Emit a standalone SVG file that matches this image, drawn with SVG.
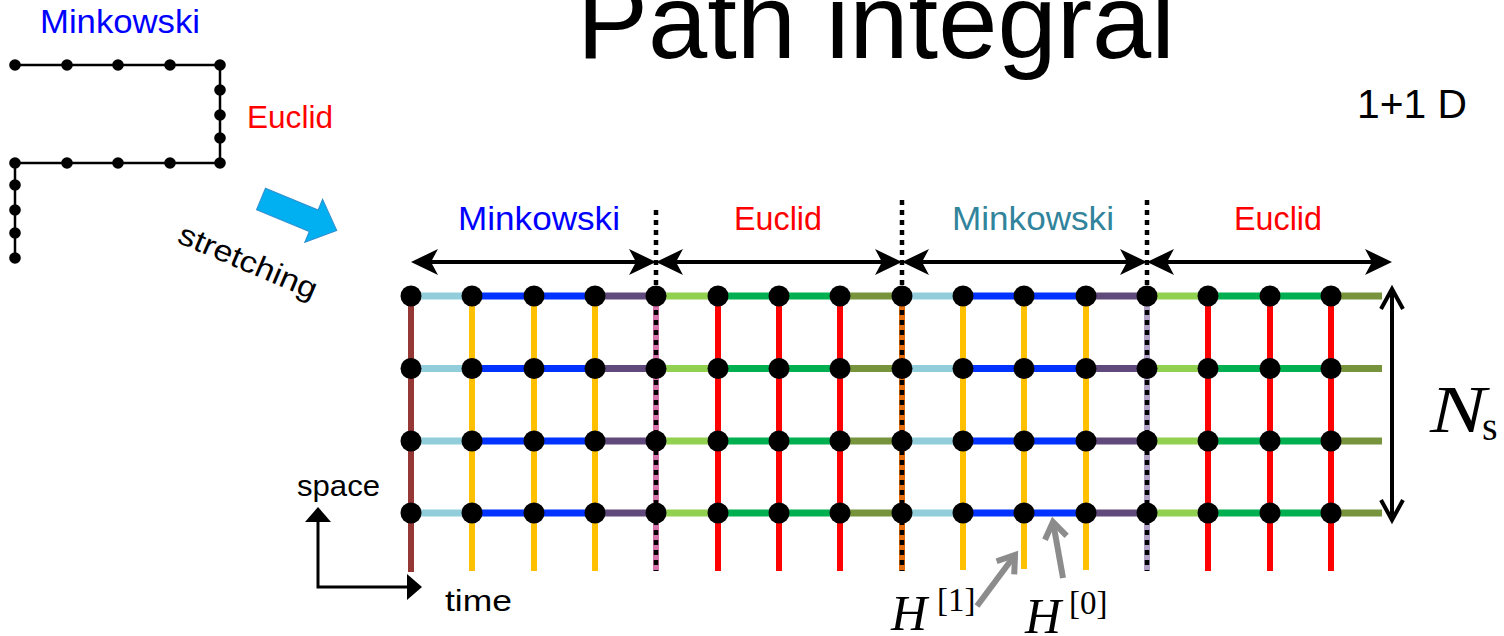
<svg xmlns="http://www.w3.org/2000/svg" width="1504" height="636" viewBox="0 0 1504 636">
<style>
.sans{font-family:"Liberation Sans",Arial,sans-serif}
.math{font-family:"Liberation Serif","Times New Roman",serif}
.k{stroke:#000;fill:none}
.dot{fill:#000}
.h{stroke-width:7;fill:none}
.v{stroke-width:6;fill:none}
.dotted{stroke:#000;stroke-width:4.5;stroke-dasharray:5 5;fill:none}
</style>
<defs>
<marker id="stealth" markerUnits="userSpaceOnUse" viewBox="-30 -16 40 32" markerWidth="40" markerHeight="32" refX="0" refY="0" orient="auto-start-reverse">
<path d="M5,0 L-22,-13 L-15,0 L-22,13 Z" fill="#000"/>
</marker>
<marker id="chev" markerUnits="userSpaceOnUse" viewBox="-30 -16 40 32" markerWidth="40" markerHeight="32" refX="0" refY="0" orient="auto-start-reverse">
<path d="M-20,-11 L0,0 L-20,11" fill="none" stroke="#000" stroke-width="4"/>
</marker>
<marker id="grey" markerUnits="userSpaceOnUse" viewBox="-24 -16 30 32" markerWidth="30" markerHeight="32" refX="0" refY="0" orient="auto">
<path d="M-16,-11 L0,0 L-16,11" fill="none" stroke="#8c8c8c" stroke-width="6"/>
</marker>
<g id="row-pattern" stroke-width="7" fill="none">
<line x1="411" y1="0" x2="472" y2="0" stroke="#92cddc"/>
<line x1="472" y1="0" x2="595" y2="0" stroke="#0033ff"/>
<line x1="595" y1="0" x2="656" y2="0" stroke="#604a7b"/>
<line x1="656" y1="0" x2="718" y2="0" stroke="#92d050"/>
<line x1="718" y1="0" x2="840" y2="0" stroke="#00b050"/>
<line x1="840" y1="0" x2="902" y2="0" stroke="#77933c"/>
<line x1="902" y1="0" x2="963" y2="0" stroke="#92cddc"/>
<line x1="963" y1="0" x2="1086" y2="0" stroke="#0033ff"/>
<line x1="1086" y1="0" x2="1147" y2="0" stroke="#604a7b"/>
<line x1="1147" y1="0" x2="1208" y2="0" stroke="#92d050"/>
<line x1="1208" y1="0" x2="1331" y2="0" stroke="#00b050"/>
<line x1="1331" y1="0" x2="1382" y2="0" stroke="#77933c"/>
</g>
<g id="node-col" fill="#000">
<circle cx="0" cy="296" r="10.5"/><circle cx="0" cy="368.5" r="10.5"/><circle cx="0" cy="441" r="10.5"/><circle cx="0" cy="513" r="10.5"/>
</g>
</defs>
<rect width="1504" height="636" fill="#fff"/>

<g id="title"><text class="sans" x="577" y="58" font-size="106" textLength="598" lengthAdjust="spacingAndGlyphs">Path integral</text></g>

<g id="small-path">
<polyline class="k" stroke-width="2.5" points="15,65 220,65 220,163 15,163 15,258"/>
<g class="dot">
<circle cx="15" cy="65" r="5.8"/><circle cx="67" cy="65" r="5.8"/><circle cx="118" cy="65" r="5.8"/><circle cx="170" cy="65" r="5.8"/><circle cx="220" cy="65" r="5.8"/>
<circle cx="220" cy="90" r="5.8"/><circle cx="220" cy="115" r="5.8"/><circle cx="220" cy="138" r="5.8"/>
<circle cx="15" cy="163" r="5.8"/><circle cx="67" cy="163" r="5.8"/><circle cx="118" cy="163" r="5.8"/><circle cx="170" cy="163" r="5.8"/><circle cx="220" cy="163" r="5.8"/>
<circle cx="15" cy="185" r="5.8"/><circle cx="15" cy="210" r="5.8"/><circle cx="15" cy="233" r="5.8"/><circle cx="15" cy="258" r="5.8"/>
</g>
<text class="sans" x="40" y="33" font-size="34" fill="#0000ff" textLength="160" lengthAdjust="spacingAndGlyphs">Minkowski</text>
<text class="sans" x="247" y="128" font-size="32" fill="#ff0000" textLength="86" lengthAdjust="spacingAndGlyphs">Euclid</text>
</g>

<g id="stretch-arrow">
<path transform="translate(261,199) rotate(22.5)" d="M0,-11.7 L57,-11.7 L57,-23.3 L82,0 L57,23.3 L57,11.7 L0,11.7 Z" fill="#00b0f0" stroke="#2f8fd0" stroke-width="1"/>
<text class="sans" transform="translate(176,242) rotate(23)" font-size="30" textLength="148" lengthAdjust="spacingAndGlyphs">stretching</text>
</g>

<g id="dim-label"><text class="sans" x="1357" y="118" font-size="41" textLength="110" lengthAdjust="spacingAndGlyphs">1+1 D</text></g>

<g id="region-labels">
<text class="sans" x="539" y="230" font-size="33" fill="#0000ff" text-anchor="middle" textLength="162" lengthAdjust="spacingAndGlyphs">Minkowski</text>
<text class="sans" x="778" y="230" font-size="33" fill="#ff0000" text-anchor="middle" textLength="88" lengthAdjust="spacingAndGlyphs">Euclid</text>
<text class="sans" x="1033" y="230" font-size="33" fill="#31849b" text-anchor="middle" textLength="162" lengthAdjust="spacingAndGlyphs">Minkowski</text>
<text class="sans" x="1278" y="230" font-size="33" fill="#ff0000" text-anchor="middle" textLength="88" lengthAdjust="spacingAndGlyphs">Euclid</text>
</g>

<g id="connectors">
<g class="v">
<line x1="411" y1="296" x2="411" y2="572" stroke="#953735"/>
<line x1="472" y1="296" x2="472" y2="571" stroke="#ffc000"/>
<line x1="534" y1="296" x2="534" y2="571" stroke="#ffc000"/>
<line x1="595" y1="296" x2="595" y2="571" stroke="#ffc000"/>
<line x1="656" y1="296" x2="656" y2="571" stroke="#d671aa"/>
<line x1="718" y1="296" x2="718" y2="571" stroke="#ff0000"/>
<line x1="779" y1="296" x2="779" y2="571" stroke="#ff0000"/>
<line x1="840" y1="296" x2="840" y2="571" stroke="#ff0000"/>
<line x1="902" y1="296" x2="902" y2="571" stroke="#e46c0a"/>
<line x1="963" y1="296" x2="963" y2="570" stroke="#ffc000"/>
<line x1="1024" y1="296" x2="1024" y2="569" stroke="#ffc000"/>
<line x1="1086" y1="296" x2="1086" y2="570" stroke="#ffc000"/>
<line x1="1147" y1="296" x2="1147" y2="571" stroke="#b3a2c7"/>
<line x1="1208" y1="296" x2="1208" y2="571" stroke="#ff0000"/>
<line x1="1270" y1="296" x2="1270" y2="571" stroke="#ff0000"/>
<line x1="1331" y1="296" x2="1331" y2="571" stroke="#ff0000"/>
</g>
<g id="rows">
<use href="#row-pattern" transform="translate(0,296)"/>
<use href="#row-pattern" transform="translate(0,368.5)"/>
<use href="#row-pattern" transform="translate(0,441)"/>
<use href="#row-pattern" transform="translate(0,513)"/>
</g>
<line class="dotted" x1="656" y1="210" x2="656" y2="571"/>
<line class="dotted" x1="902" y1="200" x2="902" y2="571"/>
<line class="dotted" x1="1147" y1="200" x2="1147" y2="571"/>
<g class="k" stroke-width="4">
<line x1="416" y1="262" x2="651" y2="262" marker-start="url(#stealth)" marker-end="url(#stealth)"/>
<line x1="661" y1="262" x2="897" y2="262" marker-start="url(#stealth)" marker-end="url(#stealth)"/>
<line x1="907" y1="262" x2="1142" y2="262" marker-start="url(#stealth)" marker-end="url(#stealth)"/>
<line x1="1152" y1="262" x2="1387" y2="262" marker-start="url(#stealth)" marker-end="url(#stealth)"/>
<line x1="1392" y1="289" x2="1392" y2="520" marker-start="url(#chev)" marker-end="url(#chev)"/>
</g>
<g id="axes">
<polyline class="k" stroke-width="3" points="318,520 318,587 409,587"/>
<path d="M318,507 L305,522 L331,522 Z" fill="#000"/>
<path d="M422,587 L407,574 L407,600 Z" fill="#000"/>
</g>
<g stroke="#8c8c8c" stroke-width="6" fill="none">
<line x1="977" y1="606" x2="1015" y2="555" marker-end="url(#grey)"/>
<line x1="1063" y1="578" x2="1053" y2="522" marker-end="url(#grey)"/>
</g>
</g>

<g id="nodes">
<use href="#node-col" x="411"/><use href="#node-col" x="472"/><use href="#node-col" x="534"/><use href="#node-col" x="595"/>
<use href="#node-col" x="656"/><use href="#node-col" x="718"/><use href="#node-col" x="779"/><use href="#node-col" x="840"/>
<use href="#node-col" x="902"/><use href="#node-col" x="963"/><use href="#node-col" x="1024"/><use href="#node-col" x="1086"/>
<use href="#node-col" x="1147"/><use href="#node-col" x="1208"/><use href="#node-col" x="1270"/><use href="#node-col" x="1331"/>
</g>

<g id="axis-labels">
<text class="sans" x="297" y="496" font-size="30" textLength="83" lengthAdjust="spacingAndGlyphs">space</text>
<text class="sans" x="445" y="611" font-size="30" textLength="67" lengthAdjust="spacingAndGlyphs">time</text>
</g>

<g id="math-labels" class="math">
<text x="1430" y="432" font-size="68" font-style="italic" textLength="56" lengthAdjust="spacingAndGlyphs">N</text>
<text x="1482" y="440" font-size="40">s</text>
<text x="891" y="630" font-size="50" font-style="italic">H</text>
<text x="937" y="611" font-size="33">[1]</text>
<text x="1025" y="633" font-size="50" font-style="italic">H</text>
<text x="1069" y="614" font-size="33">[0]</text>
</g>
</svg>
